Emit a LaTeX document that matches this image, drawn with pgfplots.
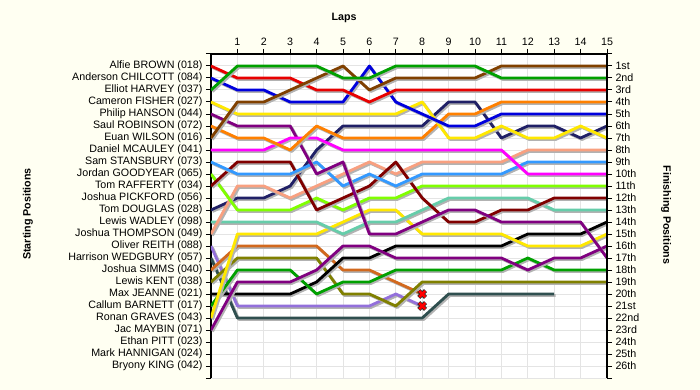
\documentclass[border=0pt]{standalone}
\usepackage{pgfplots}
\pgfplotsset{compat=1.18}
\usepackage{fontspec}
\setmainfont{Liberation Sans}
\definecolor{bg}{HTML}{FFFFF2}
\definecolor{gridc}{HTML}{E4E4E4}
\definecolor{cRed}{HTML}{E80000}
\definecolor{cBlue}{HTML}{0000DD}
\definecolor{cGreen}{HTML}{00A000}
\definecolor{cYellow}{HTML}{FFE800}
\definecolor{cPurple}{HTML}{800080}
\definecolor{cOrange}{HTML}{FF8000}
\definecolor{cBrown}{HTML}{804000}
\definecolor{cMagenta}{HTML}{FF00FF}
\definecolor{cLBlue}{HTML}{3399FF}
\definecolor{cLime}{HTML}{80FF00}
\definecolor{cMaroon}{HTML}{800000}
\definecolor{cNavy}{HTML}{202066}
\definecolor{cTeal}{HTML}{66CDAA}
\definecolor{cSalmon}{HTML}{F8A080}
\definecolor{cLav}{HTML}{9370DB}
\definecolor{cDSG}{HTML}{2F4F4F}
\definecolor{cChoc}{HTML}{D2691E}
\definecolor{cOlive}{HTML}{808000}
\begin{document}
\begin{tikzpicture}[x=1pt,y=1pt]
\fill[bg] (-211,-12) rectangle (489,378);
\begin{axis}[
  at={(0,0)}, anchor=south west,
  scale only axis, width=396pt, height=324pt,
  xmin=0, xmax=15, ymin=0, ymax=27, y dir=reverse,
  axis x line*=top, axis y line*=left,
  xtick={1,...,15}, ytick={0,...,27},
  yticklabels={,Alfie BROWN (018),Anderson CHILCOTT (084),Elliot HARVEY (037),Cameron FISHER (027),Philip HANSON (044),Saul ROBINSON (072),Euan WILSON (016),Daniel MCAULEY (041),Sam STANSBURY (073),Jordan GOODYEAR (065),Tom RAFFERTY (034),Joshua PICKFORD (056),Tom DOUGLAS (028),Lewis WADLEY (098),Joshua THOMPSON (049),Oliver REITH (088),Harrison WEDGBURY (057),Joshua SIMMS (040),Lewis KENT (038),Max JEANNE (021),Callum BARNETT (017),Ronan GRAVES (043),Jac MAYBIN (071),Ethan PITT (023),Mark HANNIGAN (024),Bryony KING (042),},
  grid=major, grid style={gridc, line width=1pt},
  tick align=outside, major tick length=5pt,
  tick style={black, line width=1pt},
  axis line style={black, line width=1.3pt, -},
  tick label style={font=\fontsize{10.7}{12}\selectfont},
  /pgf/number format/assume math mode=true,
  axis background/.style={fill=white},
  every axis plot/.append style={line width=2.8pt, line join=round},
  sh/.style={preaction={draw=black!30, transform canvas={xshift=1.5pt,yshift=-1.5pt}}},
]
\addplot[sh, cNavy] coordinates {(0,13)(1,12)(2,12)(3,11)(4,8)(5,6)(6,6)(7,6)(8,6)(9,4)(10,4)(11,7)(12,6)(13,6)(14,7)(15,6)};
\addplot[sh, cDSG] coordinates {(0,17)(1,22)(2,22)(3,22)(4,22)(5,22)(6,22)(7,22)(8,22)(9,20)(10,20)(11,20)(12,20)(13,20)};
\addplot[sh, cLav] coordinates {(0,16)(1,21)(2,21)(3,21)(4,21)(5,21)(6,21)(7,20)(8,21)};
\addplot[sh, cChoc] coordinates {(0,18)(1,16)(2,16)(3,16)(4,16)(5,18)(6,18)(7,19)(8,20)};
\addplot[sh, cOlive] coordinates {(0,19)(1,17)(2,17)(3,17)(4,17)(5,20)(6,20)(7,21)(8,19)(9,19)(10,19)(11,19)(12,19)(13,19)(14,19)(15,19)};
\addplot[sh, black] coordinates {(0,20)(1,20)(2,20)(3,20)(4,19)(5,17)(6,17)(7,16)(8,16)(9,16)(10,16)(11,16)(12,15)(13,15)(14,15)(15,14)};
\addplot[sh, cGreen] coordinates {(0,21)(1,18)(2,18)(3,18)(4,20)(5,19)(6,19)(7,18)(8,18)(9,18)(10,18)(11,18)(12,17)(13,18)(14,18)(15,18)};
\addplot[sh, cPurple] coordinates {(0,23)(1,19)(2,19)(3,19)(4,18)(5,16)(6,16)(7,17)(8,17)(9,17)(10,17)(11,17)(12,18)(13,17)(14,17)(15,16)};
\addplot[sh, cYellow] coordinates {(0,22)(1,15)(2,15)(3,15)(4,15)(5,14)(6,13)(7,13)(8,15)(9,15)(10,15)(11,15)(12,16)(13,16)(14,16)(15,15)};
\addplot[sh, cTeal] coordinates {(0,14)(1,14)(2,14)(3,14)(4,14)(5,15)(6,14)(7,14)(8,13)(9,12)(10,12)(11,12)(12,12)(13,13)(14,13)(15,13)};
\addplot[sh, cSalmon] coordinates {(0,15)(1,11)(2,11)(3,12)(4,11)(5,10)(6,9)(7,10)(8,9)(9,9)(10,9)(11,9)(12,8)(13,8)(14,8)(15,8)};
\addplot[sh, cLime] coordinates {(0,10)(1,13)(2,13)(3,13)(4,12)(5,13)(6,12)(7,12)(8,11)(9,11)(10,11)(11,11)(12,11)(13,11)(14,11)(15,11)};
\addplot[sh, cMaroon] coordinates {(0,11)(1,9)(2,9)(3,9)(4,13)(5,12)(6,11)(7,9)(8,12)(9,14)(10,14)(11,13)(12,13)(13,12)(14,12)(15,12)};
\addplot[sh, cLBlue] coordinates {(0,9)(1,10)(2,10)(3,10)(4,9)(5,11)(6,10)(7,11)(8,10)(9,10)(10,10)(11,10)(12,9)(13,9)(14,9)(15,9)};
\addplot[sh, cPurple] coordinates {(0,5)(1,6)(2,6)(3,6)(4,10)(5,9)(6,15)(7,15)(8,14)(9,13)(10,13)(11,14)(12,14)(13,14)(14,14)(15,17)};
\addplot[sh, cMagenta] coordinates {(0,8)(1,8)(2,8)(3,7)(4,7)(5,8)(6,8)(7,8)(8,8)(9,8)(10,8)(11,8)(12,10)(13,10)(14,10)(15,10)};
\addplot[sh, cOrange] coordinates {(0,6)(1,7)(2,7)(3,8)(4,6)(5,7)(6,7)(7,7)(8,7)(9,5)(10,5)(11,4)(12,4)(13,4)(14,4)(15,4)};
\addplot[sh, cYellow] coordinates {(0,4)(1,5)(2,5)(3,5)(4,5)(5,5)(6,5)(7,5)(8,4)(9,7)(10,7)(11,6)(12,7)(13,7)(14,6)(15,7)};
\addplot[sh, cBlue] coordinates {(0,2)(1,3)(2,3)(3,4)(4,4)(5,4)(6,1)(7,4)(8,5)(9,6)(10,6)(11,5)(12,5)(13,5)(14,5)(15,5)};
\addplot[sh, cRed] coordinates {(0,1)(1,2)(2,2)(3,2)(4,3)(5,3)(6,4)(7,3)(8,3)(9,3)(10,3)(11,3)(12,3)(13,3)(14,3)(15,3)};
\addplot[sh, cBrown] coordinates {(0,7)(1,4)(2,4)(3,3)(4,2)(5,1)(6,3)(7,2)(8,2)(9,2)(10,2)(11,1)(12,1)(13,1)(14,1)(15,1)};
\addplot[sh, cGreen] coordinates {(0,3)(1,1)(2,1)(3,1)(4,1)(5,2)(6,2)(7,1)(8,1)(9,1)(10,1)(11,2)(12,2)(13,2)(14,2)(15,2)};
\addplot[only marks, mark=x, mark size=4.8pt, mark options={line width=4.2pt, draw=black!85}] coordinates {(8,20)(8,21)};
\addplot[only marks, mark=x, mark size=4.3pt, mark options={line width=2.6pt, draw=red}] coordinates {(8,20)(8,21)};
\end{axis}
\begin{axis}[
  at={(0,0)}, anchor=south west,
  scale only axis, width=396pt, height=324pt,
  xmin=0, xmax=15, ymin=0, ymax=27, y dir=reverse,
  axis x line=none, axis y line*=right,
  ytick={0,...,27},
  yticklabels={,1st,2nd,3rd,4th,5th,6th,7th,8th,9th,10th,11th,12th,13th,14th,15th,16th,17th,18th,19th,20th,21st,22nd,23rd,24th,25th,26th,},
  tick align=outside, major tick length=5pt,
  tick style={black, line width=1pt},
  axis line style={black, line width=1.3pt, -},
  tick label style={font=\fontsize{10.7}{12}\selectfont},
]
\end{axis}
\node[font=\bfseries\fontsize{10.7}{12}\selectfont] at (133,360) {Laps};
\node[font=\bfseries\fontsize{10.7}{12}\selectfont, rotate=90] at (-183,164) {Starting Positions};
\node[font=\bfseries\fontsize{10.7}{12}\selectfont, rotate=-90] at (455,163) {Finishing Positions};
\pgfresetboundingbox
\path (-211,-12) rectangle (489,378);
\end{tikzpicture}
\end{document}
